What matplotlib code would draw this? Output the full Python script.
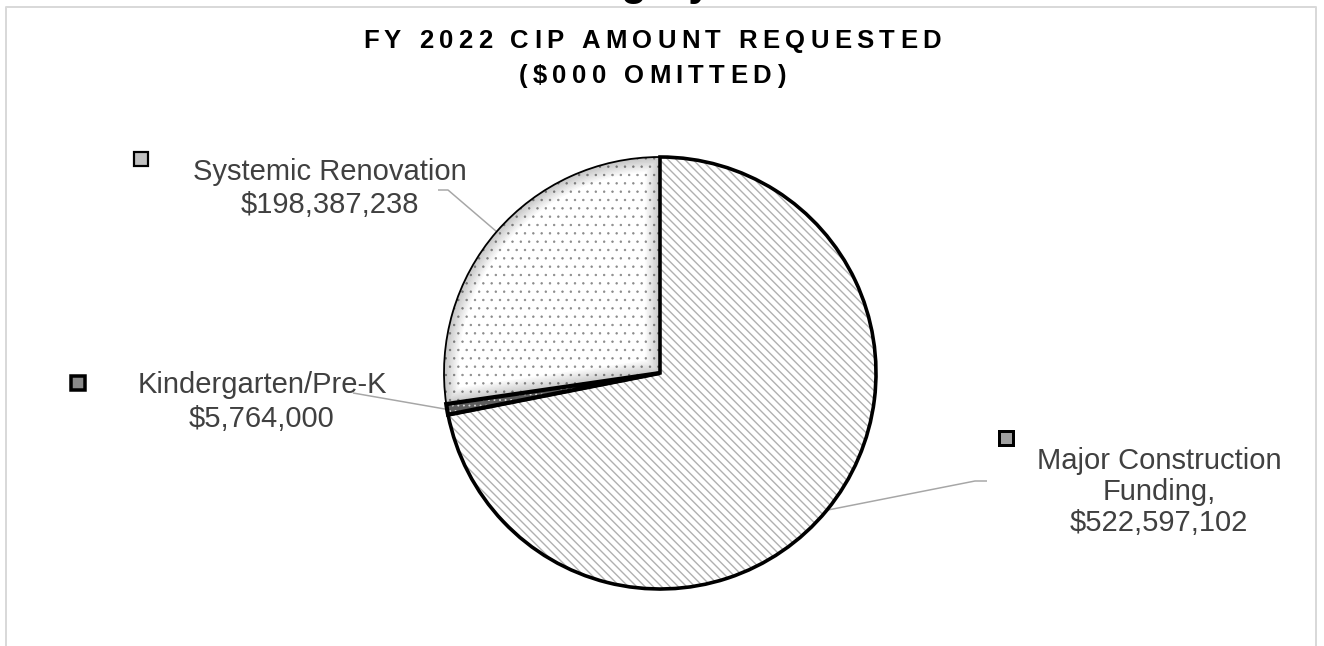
import matplotlib
matplotlib.use("Agg")
import matplotlib.pyplot as plt
from matplotlib.patches import Wedge, Rectangle
from matplotlib.font_manager import FontProperties, findfont, get_font
import numpy as np

# ---------------- data ----------------
categories = ["Major Construction Funding", "Kindergarten/Pre-K", "Systemic Renovation"]
amounts = [522597102, 5764000, 198387238]
label_wrap = [["Major Construction", "Funding"], ["Kindergarten/Pre-K"], ["Systemic Renovation"]]
label_sep = [",", "", ""]
title_lines = ["FY 2022 CIP AMOUNT REQUESTED", "($000 OMITTED)"]
cut_title = "Category"

# ---------------- layout (pixels) ----------------
W, H = 1324, 646
plt.rcParams["hatch.linewidth"] = 0.9
fig = plt.figure(figsize=(W / 100, H / 100), dpi=100)
ax = fig.add_axes([0, 0, 1, 1])


def Y(py):
    return H - py


PT = 0.72  # points per pixel at dpi 100
cx, cy, R = 660, Y(373), 216

wedges, _ = ax.pie(amounts, startangle=90, counterclock=False,
                   center=(cx, cy), radius=R,
                   wedgeprops=dict(linewidth=0, edgecolor="black"))

styles = [
    dict(face="white", hatch="\\\\\\\\", hcolor="#b0b0b0", hlw=1.0, lw=3.6, z=4),
    dict(face="#5e5e5e", hatch="...", hcolor="#d8d8d8", hlw=0.6, lw=4.2, z=5),
    dict(face="white", hatch="..", hcolor="#8a8a8a", hlw=0.5, lw=1.8, z=3),
]

for w, st in zip(wedges, styles):
    w.set_facecolor(st["face"])
    w.set_zorder(st["z"] - 0.5)
    c, r, t1, t2 = w.center, w.r, w.theta1, w.theta2
    # hatch overlay
    hw = Wedge(c, r, t1, t2, facecolor="none", edgecolor=st["hcolor"],
               hatch=st["hatch"], linewidth=0, zorder=st["z"] - 0.4,
               transform=ax.transData)
    if hasattr(hw, "set_hatch_linewidth"):
        hw.set_hatch_linewidth(st["hlw"])
    ax.add_patch(hw)
    # border
    bw = Wedge(c, r, t1, t2, fill=False, edgecolor="black",
               linewidth=st["lw"] * PT, zorder=st["z"], joinstyle="miter",
               transform=ax.transData)
    ax.add_patch(bw)

# inner soft shading of the systemic slice
sw = wedges[2]
for lw in np.arange(2, 32, 3):
    sh = Wedge(sw.center, sw.r, sw.theta1, sw.theta2, fill=False,
               edgecolor="black", linewidth=lw * PT, alpha=0.022,
               zorder=2.8, transform=ax.transData)
    sh.set_clip_path(sw)
    ax.add_patch(sh)

# ---------------- data labels ----------------
label_font = dict(family="Liberation Sans", size=21, color="#404040")
label_pos = [(1159, 469, 31), (262, 393, 34), (330, 180, 33)]
key_pos = [(1006, 438), (78, 383), (141, 159)]
key_style = [dict(face="#a0a0a0", lw=3.0), dict(face="#8a8a8a", lw=3.5),
             dict(face="#c0c0c0", lw=2.2)]
leader_start = [[(987, 481), (975, 481)], [(353, 393)], [(438, 190), (448, 190)]]

for i, w in enumerate(wedges):
    lines = list(label_wrap[i])
    lines[-1] = lines[-1] + label_sep[i]
    lines.append("${:,}".format(amounts[i]))
    lx, ly, dy = label_pos[i]
    for k, s in enumerate(lines):
        ax.text(lx, Y(ly + k * dy), s, ha="center", va="baseline", **label_font,
                zorder=6)
    # legend key
    kx, ky = key_pos[i]
    ks = key_style[i]
    ax.add_patch(Rectangle((kx - 7, Y(ky) - 7), 14, 14, facecolor=ks["face"],
                           edgecolor="black", linewidth=ks["lw"] * PT, zorder=6))
    # leader line
    tm = np.deg2rad((w.theta1 + w.theta2) / 2)
    px = w.center[0] + w.r * np.cos(tm)
    py = w.center[1] + w.r * np.sin(tm)
    xs = [p[0] for p in leader_start[i]] + [px]
    ys = [Y(p[1]) for p in leader_start[i]] + [py]
    ax.plot(xs, ys, color="#a6a6a6", linewidth=1.5 * PT, zorder=2.5,
            solid_capstyle="butt")

# ---------------- title with letter spacing ----------------
fp_title = FontProperties(family="Liberation Sans", weight="bold", size=18.5)
ft = get_font(findfont(fp_title))


def advances(s):
    ft.set_size(18.5, 100)
    return [ft.load_char(ord(ch)).linearHoriAdvance / 65536 for ch in s]


spacing = 5.3
for s, base in zip(title_lines, [48, 83]):
    adv = advances(s)
    total = sum(adv) + spacing * (len(s) - 1)
    x = 652 - total / 2
    for ch, a in zip(s, adv):
        if ch != " ":
            ax.text(x, Y(base), ch, ha="left", va="baseline",
                    fontproperties=fp_title, color="black", zorder=6)
        x += a + spacing

# partially visible heading above the chart frame (cut off in the original)
ax.text(531, Y(-5), cut_title, ha="left", va="baseline",
        family="Liberation Sans", weight="bold", size=30, color="black")

# chart frame
ax.plot([6, 6, 1316, 1316], [Y(700), Y(6.5), Y(6.5), Y(700)],
        color="#d9d9d9", linewidth=2 * PT, zorder=1)

ax.set_xlim(0, W)
ax.set_ylim(0, H)
ax.set_aspect("equal")
ax.axis("off")
fig.savefig("out.png", dpi=100, facecolor="white")
